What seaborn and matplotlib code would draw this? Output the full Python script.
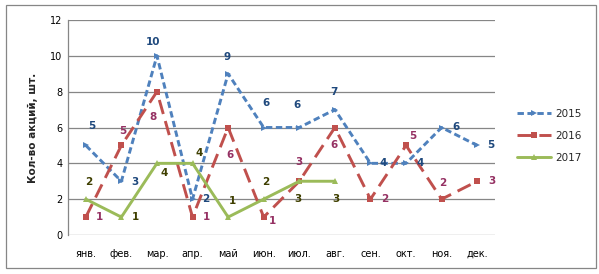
import matplotlib
matplotlib.use("Agg")
import matplotlib.pyplot as plt
import seaborn as sns
import pandas as pd
import numpy as np
from matplotlib.patches import Rectangle
from matplotlib.lines import Line2D

months = ["янв.", "фев.", "мар.", "апр.", "май", "июн.", "июл.", "авг.", "сен.", "окт.", "ноя.", "дек."]
y2015 = [5, 3, 10, 2, 9, 6, 6, 7, 4, 4, 6, 5]
y2016 = [1, 5, 8, 1, 6, 1, 3, 6, 2, 5, 2, 3]
y2017 = [2, 1, 4, 4, 1, 2, 3, 3]
series_names = ["2015", "2016", "2017"]

# label offsets in pixels (dx, dy downward)
off2015 = [(6, -19), (14, 1), (-4, -14), (13, 0), (-1, -17), (2, -25), (-2, -22), (-1, -18), (13, 0), (14, 0), (14, 0), (14, 0)]
off2016 = [(14, 0), (1, -14), (-4, 25), (14, 0), (2, 28), (9, 4), (0, -19), (-1, 18), (14, 0), (7, -9), (1, -16), (15, 0)]
off2017 = [(3, -17), (14, 0), (7, 10), (7, -10), (4, -16), (2, -17), (-1, 18), (1, 18)]

rows = []
for name, vals in zip(series_names, [y2015, y2016, y2017]):
    for i, v in enumerate(vals):
        rows.append({"idx": i, "month": months[i], "value": v, "year": name})
df = pd.DataFrame(rows)

sns.set_style("white")
plt.rcParams["font.family"] = ["DejaVu Sans"]

fig = plt.figure(figsize=(5.99, 2.74), dpi=100)
ax = fig.add_axes([68 / 599, 1 - 235 / 274, (495 - 68) / 599, (235 - 20) / 274])

line_colors = {"2015": "#4F81BD", "2016": "#C0504D", "2017": "#9BBB59"}
label_colors = {"2015": "#1F497D", "2016": "#953163", "2017": "#3F3F00"}
markers = {"2015": ">", "2016": "s", "2017": "^"}
dashes = {"2015": (2.2, 1.2), "2016": (5, 2.5), "2017": ""}

sns.lineplot(data=df, x="idx", y="value", hue="year", style="year",
             palette=line_colors, markers=markers, dashes=dashes,
             linewidth=2.1, markersize=5, markeredgewidth=0, ax=ax, legend=False)

offsets = {"2015": off2015, "2016": off2016, "2017": off2017}
for name, vals in zip(series_names, [y2015, y2016, y2017]):
    for i, v in enumerate(vals):
        dx, dy = offsets[name][i]
        ax.annotate(str(v), (i, v), xytext=(dx, -dy), textcoords="offset pixels",
                    ha="center", va="center", fontsize=7.5, fontweight="bold",
                    color=label_colors[name])

ax.set_xlim(-0.5, 11.5)
ax.set_ylim(0, 12)
ax.set_yticks(range(0, 13, 2))
ax.set_xticks(range(12))
ax.set_xticklabels(months)
ax.tick_params(axis="both", length=0, labelsize=7, colors="#000000", pad=4)
ax.tick_params(axis="x", pad=10)
ax.grid(axis="y", color="#868686", linewidth=0.9)
ax.set_axisbelow(True)
for s in ["top", "right", "bottom"]:
    ax.spines[s].set_visible(False)
ax.spines["left"].set_color("#868686")
ax.spines["left"].set_linewidth(0.9)
ax.set_xlabel("")
ax.set_ylabel("Кол-во акций, шт.", fontsize=7.5, fontweight="bold", labelpad=9)

# legend
handles = [Line2D([], [], color=line_colors[n], marker=markers[n], markersize=5,
                  markeredgewidth=0, linewidth=2.1,
                  linestyle=(0, dashes[n]) if dashes[n] else "-") for n in series_names]
fig.legend(handles, series_names, loc="center left", bbox_to_anchor=(508 / 599, 1 - 136 / 274),
           frameon=False, fontsize=7.5, handlelength=3.2, labelspacing=1.15, handletextpad=0.4)

fig.patches.append(Rectangle((6 / 599, 1 - 268 / 274), 590 / 599, 263 / 274,
                             transform=fig.transFigure, fill=False, edgecolor="#868686", linewidth=0.9))

fig.savefig("out.png", dpi=100)
